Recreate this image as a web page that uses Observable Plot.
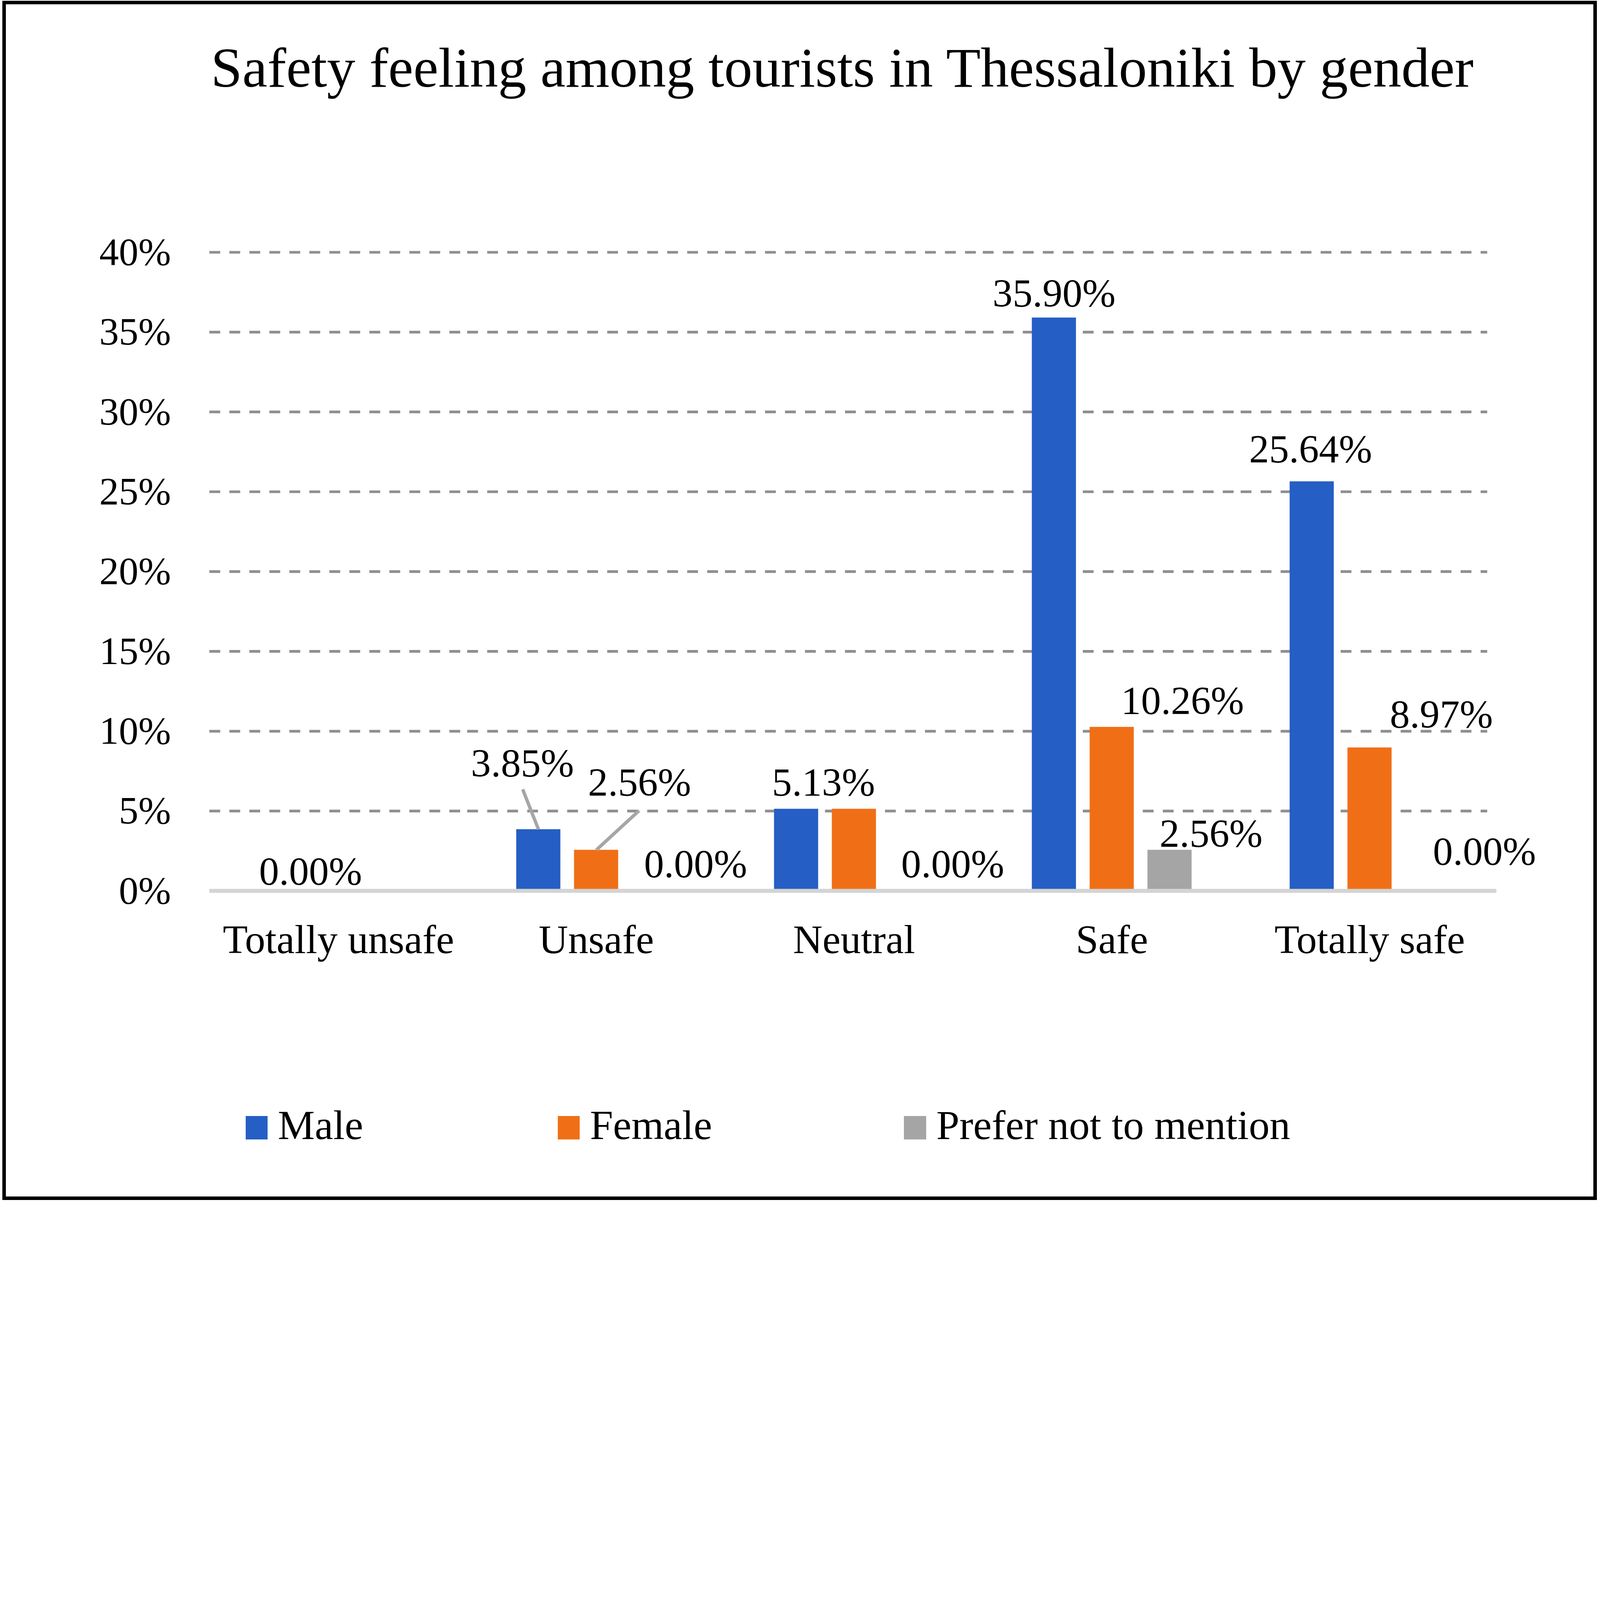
<!DOCTYPE html>
<html>
<head>
<meta charset="utf-8">
<script src="https://cdn.jsdelivr.net/npm/d3@7"></script>
<script src="https://cdn.jsdelivr.net/npm/@observablehq/plot@0.6"></script>
<style>
  html, body { margin: 0; padding: 0; background: #fff; }
  #page { position: relative; overflow: hidden; background: #fff;
          font-family: "Liberation Serif", "Times New Roman", serif; color: #000; }
  #frame { position: absolute; border-style: solid; border-color: #000; box-sizing: border-box; }
  #title { position: absolute; right: 0; text-align: center; line-height: 1; white-space: nowrap; }
  #chart { position: absolute; left: 0; }
  .sw { position: absolute; }
  .lt { position: absolute; line-height: 1; white-space: nowrap; }
</style>
</head>
<body>
<div id="page">
  <div id="frame"></div>
  <div id="title"></div>
  <div id="chart"></div>
  <div id="legend"></div>
</div>
<script>
// ---------- data ----------
const titleText = "Safety feeling among tourists in Thessaloniki by gender";
const categories = ["Totally unsafe", "Unsafe", "Neutral", "Safe", "Totally safe"];
const series = ["Male", "Female", "Prefer not to mention"];
const male = [0.00, 3.85, 5.13, 35.90, 25.64];
const female = [0.00, 2.56, 5.13, 10.26, 8.97];
const preferNot = [0.00, 0.00, 0.00, 2.56, 0.00];
const yTicks = [0, 5, 10, 15, 20, 25, 30, 35, 40];
const colors = ["#255EC4", "#F06F16", "#A5A5A5"];

// ---------- layout: reference units (1568 x 1177), scaled to the window ----------
const REF_W = 1568, REF_H = 1177;
const PAGE_W = Math.min(window.innerWidth || 7701, 7701, (window.innerHeight || 5779) * 7701 / 5779);
const U = PAGE_W / REF_W;
const PAGE_H = PAGE_W * 5779 / 7701;

const page = document.getElementById("page");
page.style.width = PAGE_W + "px";
page.style.height = PAGE_H + "px";

const frame = document.getElementById("frame");
Object.assign(frame.style, {
  left: 2.4 * U + "px", top: 0.6 * U + "px",
  width: 1562.7 * U + "px", height: (PAGE_H / U - 1.3) * U + "px",
  borderWidth: 3.5 * U + "px"
});

const title = document.getElementById("title");
title.textContent = titleText;
Object.assign(title.style, {left: 82.7 * U + "px", top: 38.5 * U + "px", fontSize: 55.4 * U + "px"});

const seriesValues = [male, female, preferNot];
const table = categories.flatMap((c, i) =>
  series.map((s, j) => ({category: c, series: s, value: seriesValues[j][i]}))
);
const find = (c, s) => table.filter(d => d.category === c && d.series === s);

// grid lines per facet (last facet's grid stops a little short, as in the reference)
const lastCat = categories[categories.length - 1];
const gridRows = categories.flatMap(c => yTicks.filter(t => t > 0).map(t => ({category: c, tick: t})));
const baseRows = categories.map(c => ({category: c, tick: 0}));

// data-label placement (offsets in reference pixels), as in the reference chart
const labelLayout = [
  {c: "Totally unsafe", s: "Male", dx: 29.3, gap: 6},
  {c: "Unsafe", s: "Male", dx: -15.7, gap: 51.7, leader: [42.2, -21.5]},
  {c: "Unsafe", s: "Female", dx: 42.4, gap: 53.1, leader: [57, 47.4]},
  {c: "Unsafe", s: "Prefer not to mention", dx: 40.6, gap: 13.3},
  {c: "Neutral", s: "Male", dx: 26.7, gap: 12.9},
  {c: "Neutral", s: "Prefer not to mention", dx: 40, gap: 13.3},
  {c: "Safe", s: "Male", dx: 0, gap: 11},
  {c: "Safe", s: "Female", dx: 69.2, gap: 12.7},
  {c: "Safe", s: "Prefer not to mention", dx: 40.5, gap: 3},
  {c: "Totally safe", s: "Male", dx: -1.3, gap: 18.8},
  {c: "Totally safe", s: "Female", dx: 70.2, gap: 19.6},
  {c: "Totally safe", s: "Prefer not to mention", dx: 55.8, gap: 25.4}
];

const labelMarks = labelLayout.map(L =>
  Plot.text(find(L.c, L.s), {
    fx: "category", x: "series", y: "value",
    text: d => d.value.toFixed(2) + "%",
    dx: L.dx * U, dy: -L.gap * U,
    lineAnchor: "bottom", textAnchor: "middle",
    fontSize: 39.1 * U, fill: "#000"
  })
);
const leaderMarks = labelLayout.filter(L => L.leader).map(L =>
  Plot.vector(find(L.c, L.s), {
    fx: "category", x: "series", y: "value",
    length: L.leader[0] * U, rotate: L.leader[1],
    anchor: "start", r: 0,
    stroke: "#A6A6A6", strokeWidth: 3.3 * U, strokeLinecap: "butt"
  })
);

const svgTop = 130, svgH = 870, yTop = 246.9, yZero = 872.7, xLeft = 205, xRight = 1469;
document.getElementById("chart").style.top = svgTop * U + "px";

const gridStyle = {fx: "category", y: "tick", stroke: "#8F8F8F", strokeWidth: 2.65 * U,
                   strokeDasharray: `${10.6 * U},${9 * U}`};
const baseStyle = {fx: "category", y: "tick", stroke: "#D4D4D4", strokeWidth: 3.9 * U};

const chart = Plot.plot({
  width: PAGE_W,
  height: svgH * U,
  marginLeft: xLeft * U,
  marginRight: PAGE_W - xRight * U,
  marginTop: (yTop - svgTop) * U,
  marginBottom: (svgTop + svgH - yZero) * U,
  style: {fontFamily: "'Liberation Serif', 'Times New Roman', serif", color: "#000", background: "transparent", overflow: "visible"},
  fx: {domain: categories, padding: 0},
  x: {domain: series, paddingInner: 0.2335, paddingOuter: 0.844, axis: null},
  y: {domain: [0, 40]},
  color: {domain: series, range: colors},
  marks: [
    Plot.ruleY(gridRows.filter(d => d.category !== lastCat), gridStyle),
    Plot.ruleY(gridRows.filter(d => d.category === lastCat), {...gridStyle, insetRight: 11 * U}),
    Plot.barY(table, {fx: "category", x: "series", y: "value", fill: "series"}),
    Plot.ruleY(baseRows.filter(d => d.category !== lastCat), baseStyle),
    Plot.ruleY(baseRows.filter(d => d.category === lastCat), {...baseStyle, insetRight: 2 * U}),
    Plot.axisY({ticks: yTicks, tickFormat: d => d + "%", tickSize: 0, tickPadding: 37.9 * U, fontSize: 38.3 * U, label: null}),
    Plot.axisFx({anchor: "bottom", tickSize: 0, tickPadding: 32.8 * U, fontSize: 39.9 * U, label: null}),
    ...leaderMarks,
    ...labelMarks
  ]
});
document.getElementById("chart").appendChild(chart);

// ---------- legend ----------
const legend = document.getElementById("legend");
const legendLeft = [240.7, 546.5, 886];
series.forEach((s, i) => {
  const sw = document.createElement("div");
  sw.className = "sw";
  Object.assign(sw.style, {
    left: legendLeft[i] * U + "px", top: 1093.8 * U + "px",
    width: 21.6 * U + "px", height: 22.8 * U + "px", background: colors[i]
  });
  legend.appendChild(sw);
  const t = document.createElement("div");
  t.className = "lt";
  Object.assign(t.style, {
    left: (legendLeft[i] + 31.6) * U + "px", top: 1082.4 * U + "px", fontSize: 40.7 * U + "px"
  });
  t.textContent = s;
  legend.appendChild(t);
});
</script>
</body>
</html>
